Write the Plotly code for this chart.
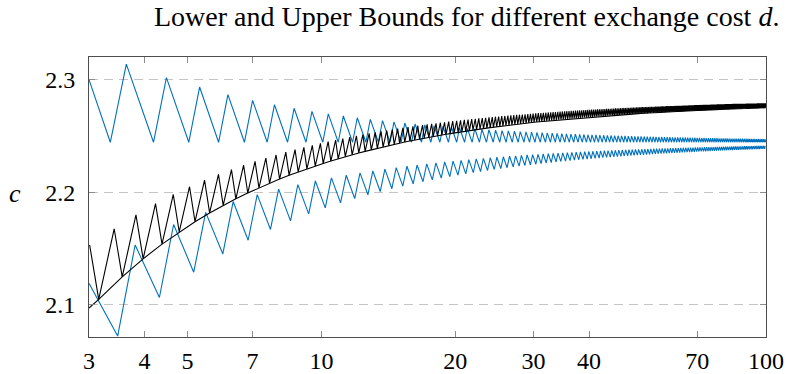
import numpy as np
import plotly.graph_objects as go

# ---------------- data ----------------
# x axis: exchange cost d (log scale), y axis: c
x_tick_vals = [3, 4, 5, 7, 10, 20, 30, 40, 70, 100]
y_tick_vals = [2.1, 2.2, 2.3]

# sampling of d for the saw-tooth vertices (first vertex, spacing)
black_peak_d0, black_dip_d0, black_step = 3.01, 3.155, 0.408
blue_up_dip_d0, blue_up_peak_d0 = 3.35, 3.64
blue_lo_dip_d0, blue_lo_peak_d0 = 3.48, 3.81
blue_step = 0.84

# black upper bound: peaks of the saw-tooth
black_peak_c = [
    2.1530, 2.1674, 2.1798, 2.1897, 2.1979, 2.2048, 2.2106, 2.2157, 2.2200, 2.2239, 2.2273,
    2.2303, 2.2330, 2.2355, 2.2377, 2.2397, 2.2416, 2.2433, 2.2449, 2.2463, 2.2476,
    2.2489, 2.2500, 2.2511, 2.2522, 2.2531, 2.2540, 2.2548, 2.2556, 2.2564, 2.2571,
    2.2578, 2.2584, 2.2590, 2.2596, 2.2602, 2.2607, 2.2612, 2.2617, 2.2621, 2.2626,
    2.2630, 2.2634, 2.2638, 2.2642, 2.2645, 2.2649, 2.2652, 2.2655, 2.2658, 2.2661,
    2.2664, 2.2667, 2.2670, 2.2672, 2.2675, 2.2677, 2.2680, 2.2682, 2.2684, 2.2686,
    2.2688, 2.2690, 2.2692, 2.2694, 2.2696, 2.2698, 2.2700, 2.2702, 2.2703, 2.2705,
    2.2706, 2.2708, 2.2710, 2.2711, 2.2712, 2.2714, 2.2715, 2.2717, 2.2718, 2.2719,
    2.2720, 2.2722, 2.2723, 2.2724, 2.2725, 2.2726, 2.2727, 2.2728, 2.2730, 2.2731,
    2.2732, 2.2733, 2.2734, 2.2734, 2.2735, 2.2736, 2.2737, 2.2738, 2.2739, 2.2740,
    2.2741, 2.2741, 2.2742, 2.2743, 2.2744, 2.2745, 2.2745, 2.2746, 2.2747, 2.2748,
    2.2748, 2.2749, 2.2750, 2.2750, 2.2751, 2.2752, 2.2752, 2.2753, 2.2753, 2.2754,
    2.2755, 2.2755, 2.2756, 2.2756, 2.2757, 2.2757, 2.2758,
    2.2758, 2.2759, 2.2759, 2.2760, 2.2760, 2.2761, 2.2761, 2.2762, 2.2762, 2.2763, 2.2763, 2.2764,
    2.2764, 2.2764, 2.2765, 2.2765, 2.2765, 2.2766, 2.2766, 2.2767, 2.2767, 2.2767, 2.2768, 2.2768, 2.2769,
    2.2769, 2.2770, 2.2770, 2.2770, 2.2771, 2.2771, 2.2772, 2.2772, 2.2772, 2.2773, 2.2773, 2.2774,
    2.2774, 2.2774, 2.2775, 2.2775, 2.2775, 2.2776, 2.2776, 2.2776, 2.2776, 2.2777, 2.2777, 2.2777,
    2.2778, 2.2778, 2.2778, 2.2779, 2.2779, 2.2779, 2.2780, 2.2780, 2.2780, 2.2780, 2.2781, 2.2781,
    2.2781, 2.2781, 2.2782, 2.2782, 2.2782, 2.2782, 2.2783, 2.2783, 2.2783, 2.2783, 2.2784, 2.2784, 2.2784,
    2.2784, 2.2784, 2.2785, 2.2785, 2.2785, 2.2785, 2.2785, 2.2786, 2.2786, 2.2786, 2.2786, 2.2786,
    2.2787, 2.2787, 2.2787, 2.2787, 2.2787, 2.2787, 2.2788, 2.2788, 2.2788, 2.2788, 2.2788, 2.2788,
    2.2788, 2.2789, 2.2789, 2.2789, 2.2789, 2.2789, 2.2789, 2.2790, 2.2790, 2.2790, 2.2790, 2.2790,
]

# black lower bound: the smooth curve; the saw-tooth dips sit on it
black_start_c = 2.097
black_dip_c = [
    2.1046, 2.1247, 2.1407, 2.1538, 2.1646, 2.1737, 2.1815, 2.1882, 2.1940, 2.1992, 2.2038,
    2.2079, 2.2116, 2.2149, 2.2179, 2.2207, 2.2232, 2.2255, 2.2276, 2.2296, 2.2315,
    2.2332, 2.2348, 2.2362, 2.2376, 2.2389, 2.2402, 2.2413, 2.2424, 2.2435, 2.2445,
    2.2454, 2.2463, 2.2471, 2.2479, 2.2487, 2.2494, 2.2501, 2.2508, 2.2514, 2.2520,
    2.2526, 2.2532, 2.2537, 2.2542, 2.2547, 2.2552, 2.2556, 2.2561, 2.2565, 2.2569,
    2.2573, 2.2577, 2.2581, 2.2585, 2.2588, 2.2592, 2.2595, 2.2598, 2.2601, 2.2604,
    2.2607, 2.2610, 2.2613, 2.2615, 2.2618, 2.2621, 2.2623, 2.2625, 2.2628, 2.2630,
    2.2632, 2.2634, 2.2637, 2.2639, 2.2641, 2.2643, 2.2645, 2.2646, 2.2648, 2.2650,
    2.2652, 2.2653, 2.2655, 2.2657, 2.2658, 2.2660, 2.2661, 2.2663, 2.2664, 2.2666,
    2.2667, 2.2669, 2.2670, 2.2671, 2.2673, 2.2674, 2.2675, 2.2676, 2.2678, 2.2679,
    2.2680, 2.2681,
    2.2682, 2.2683, 2.2684, 2.2685, 2.2686, 2.2687, 2.2688, 2.2689, 2.2690, 2.2691, 2.2692, 2.2693,
    2.2694, 2.2695, 2.2696, 2.2697, 2.2698, 2.2699, 2.2699, 2.2700, 2.2701, 2.2702, 2.2702, 2.2703, 2.2704,
    2.2705, 2.2705, 2.2706, 2.2707, 2.2707, 2.2708, 2.2709, 2.2709, 2.2710, 2.2711, 2.2711, 2.2712,
    2.2713, 2.2713, 2.2714, 2.2714, 2.2715, 2.2716, 2.2716, 2.2717, 2.2717, 2.2718, 2.2718, 2.2719,
    2.2720, 2.2720, 2.2721, 2.2721, 2.2722, 2.2722, 2.2723, 2.2723, 2.2724, 2.2724, 2.2725, 2.2725,
    2.2726, 2.2726, 2.2727, 2.2727, 2.2727, 2.2728, 2.2728, 2.2729, 2.2729, 2.2730, 2.2730, 2.2730, 2.2731,
    2.2731, 2.2732, 2.2732, 2.2733, 2.2733, 2.2733, 2.2734, 2.2734, 2.2735, 2.2735, 2.2735, 2.2736,
    2.2736, 2.2737, 2.2737, 2.2737, 2.2738, 2.2738, 2.2738, 2.2739, 2.2739, 2.2739, 2.2740, 2.2740,
    2.2740, 2.2741, 2.2741, 2.2741, 2.2741, 2.2742, 2.2742, 2.2742, 2.2742, 2.2743, 2.2743, 2.2743,
    2.2743, 2.2744, 2.2744, 2.2744, 2.2745, 2.2745, 2.2745, 2.2745, 2.2746, 2.2746, 2.2746, 2.2746, 2.2747,
    2.2747, 2.2747, 2.2747, 2.2748, 2.2748, 2.2748, 2.2748, 2.2749, 2.2749, 2.2749, 2.2750, 2.2750,
]

# blue upper series
blue_up_start_c = 2.300
blue_up_peak_c = [
    2.3138, 2.3018, 2.2934, 2.2867, 2.2816, 2.2777, 2.2745, 2.2718, 2.2696, 2.2677,
    2.2661, 2.2647, 2.2635, 2.2624, 2.2614, 2.2605, 2.2597, 2.2590, 2.2584, 2.2578,
    2.2572, 2.2567, 2.2563, 2.2558, 2.2554, 2.2551, 2.2547, 2.2544, 2.2541, 2.2538,
    2.2535, 2.2533, 2.2530, 2.2528, 2.2526, 2.2524, 2.2522, 2.2520, 2.2518, 2.2516,
    2.2515, 2.2513, 2.2512, 2.2510, 2.2509, 2.2508, 2.2506, 2.2505, 2.2504, 2.2503,
    2.2502, 2.2501, 2.2500, 2.2499, 2.2498, 2.2497, 2.2496, 2.2495, 2.2495, 2.2494,
    2.2493, 2.2492, 2.2492, 2.2491, 2.2490, 2.2490, 2.2489, 2.2488, 2.2488, 2.2487,
    2.2487, 2.2486, 2.2486, 2.2485, 2.2485, 2.2484, 2.2484, 2.2483, 2.2483, 2.2482,
    2.2482, 2.2481, 2.2481, 2.2480, 2.2480, 2.2480, 2.2479, 2.2479, 2.2479, 2.2478,
    2.2478, 2.2477, 2.2477, 2.2477, 2.2476, 2.2476, 2.2476, 2.2476, 2.2475, 2.2475,
    2.2475, 2.2474, 2.2474, 2.2474, 2.2474, 2.2473, 2.2473, 2.2473, 2.2473, 2.2472,
    2.2472, 2.2472, 2.2472, 2.2471, 2.2471,
]
blue_up_dip_c = [
    2.2443, 2.2443, 2.2443, 2.2443, 2.2443, 2.2443, 2.2443, 2.2443, 2.2443, 2.2443,
    2.2443, 2.2443, 2.2443, 2.2443, 2.2443, 2.2443, 2.2443, 2.2443, 2.2443, 2.2443,
    2.2443, 2.2443, 2.2443, 2.2443, 2.2443, 2.2443, 2.2443, 2.2443, 2.2443, 2.2443,
    2.2443, 2.2443, 2.2443, 2.2443, 2.2443, 2.2443, 2.2443, 2.2443, 2.2443, 2.2443,
    2.2443, 2.2443, 2.2443, 2.2443, 2.2443, 2.2443, 2.2443, 2.2443, 2.2443, 2.2443,
    2.2443, 2.2443, 2.2443, 2.2443, 2.2443, 2.2443, 2.2443, 2.2443, 2.2443, 2.2443,
    2.2443, 2.2443, 2.2443, 2.2443, 2.2443, 2.2443, 2.2443, 2.2443, 2.2443, 2.2443,
    2.2443, 2.2443, 2.2443, 2.2443, 2.2443, 2.2443, 2.2443, 2.2443, 2.2443, 2.2443,
    2.2443, 2.2443, 2.2443, 2.2443, 2.2443, 2.2443, 2.2443, 2.2443, 2.2443, 2.2443,
    2.2443, 2.2443, 2.2443, 2.2443, 2.2443, 2.2443, 2.2443, 2.2443, 2.2443, 2.2443,
    2.2443, 2.2443, 2.2443, 2.2443, 2.2443, 2.2443, 2.2443, 2.2443, 2.2443, 2.2443,
    2.2443, 2.2443, 2.2443, 2.2443, 2.2443, 2.2443,
]

# blue lower series
blue_lo_start_c = 2.119
blue_lo_dip_c = [
    2.0720, 2.1063, 2.1288, 2.1450, 2.1572, 2.1668, 2.1744, 2.1807, 2.1860, 2.1904,
    2.1943, 2.1976, 2.2005, 2.2030, 2.2053, 2.2074, 2.2092, 2.2109, 2.2124, 2.2138,
    2.2151, 2.2162, 2.2173, 2.2183, 2.2192, 2.2201, 2.2209, 2.2217, 2.2224, 2.2231,
    2.2237, 2.2243, 2.2248, 2.2254, 2.2259, 2.2263, 2.2268, 2.2272, 2.2276, 2.2280,
    2.2284, 2.2288, 2.2291, 2.2294, 2.2297, 2.2300, 2.2303, 2.2306, 2.2309, 2.2311,
    2.2314, 2.2316, 2.2318, 2.2321, 2.2323, 2.2325, 2.2327, 2.2329, 2.2331, 2.2332,
    2.2334, 2.2336, 2.2338, 2.2339, 2.2341, 2.2342, 2.2344, 2.2345, 2.2347, 2.2348,
    2.2349, 2.2350, 2.2352, 2.2353, 2.2354, 2.2355, 2.2356, 2.2357, 2.2358, 2.2360,
    2.2361, 2.2362, 2.2362, 2.2363, 2.2364, 2.2365, 2.2366, 2.2367, 2.2368, 2.2369,
    2.2370, 2.2370, 2.2371, 2.2372, 2.2373, 2.2373, 2.2374, 2.2375, 2.2375, 2.2376,
    2.2377, 2.2377, 2.2378, 2.2379, 2.2379, 2.2380, 2.2380, 2.2381, 2.2382, 2.2382,
    2.2383, 2.2383, 2.2384, 2.2384, 2.2385,
]
blue_lo_peak_c = [
    2.1530, 2.1712, 2.1820, 2.1916, 2.1978, 2.2027, 2.2067, 2.2099, 2.2127, 2.2150,
    2.2171, 2.2188, 2.2204, 2.2218, 2.2230, 2.2241, 2.2251, 2.2260, 2.2268, 2.2276,
    2.2282, 2.2289, 2.2295, 2.2300, 2.2305, 2.2310, 2.2314, 2.2319, 2.2322, 2.2326,
    2.2330, 2.2333, 2.2336, 2.2339, 2.2342, 2.2344, 2.2347, 2.2349, 2.2351, 2.2353,
    2.2355, 2.2357, 2.2359, 2.2361, 2.2363, 2.2364, 2.2366, 2.2368, 2.2369, 2.2370,
    2.2372, 2.2373, 2.2374, 2.2376, 2.2377, 2.2378, 2.2379, 2.2380, 2.2381, 2.2382,
    2.2383, 2.2384, 2.2385, 2.2386, 2.2387, 2.2388, 2.2388, 2.2389, 2.2390, 2.2391,
    2.2392, 2.2392, 2.2393, 2.2394, 2.2394, 2.2395, 2.2395, 2.2396, 2.2397, 2.2397,
    2.2398, 2.2398, 2.2399, 2.2399, 2.2400, 2.2400, 2.2401, 2.2401, 2.2402, 2.2402,
    2.2403, 2.2403, 2.2404, 2.2404, 2.2404, 2.2405, 2.2405, 2.2406, 2.2406, 2.2406,
    2.2407, 2.2407, 2.2408, 2.2408, 2.2408, 2.2409, 2.2409, 2.2409, 2.2410, 2.2410,
    2.2410, 2.2411, 2.2411, 2.2411, 2.2411,
]

# ---------------- build the vertex sequences ----------------
def grid(d0, step, n):
    return list(d0 + step * np.arange(n))

def interleave(xa, ya, xb, yb, start=None):
    xs, ys = [], []
    if start is not None:
        xs.append(start[0]); ys.append(start[1])
    for i in range(max(len(xa), len(xb))):
        if i < len(xa):
            xs.append(xa[i]); ys.append(ya[i])
        if i < len(xb):
            xs.append(xb[i]); ys.append(yb[i])
    return xs, ys

D_START = x_tick_vals[0]

bp_d = grid(black_peak_d0, black_step, len(black_peak_c))
bd_d = grid(black_dip_d0, black_step, len(black_dip_c))
black_x, black_y = interleave(bp_d, black_peak_c, bd_d, black_dip_c)
smooth_x = [D_START] + bd_d
smooth_y = [black_start_c] + black_dip_c

bud_d = grid(blue_up_dip_d0, blue_step, len(blue_up_dip_c))
bup_d = grid(blue_up_peak_d0, blue_step, len(blue_up_peak_c))
bu_x, bu_y = interleave(bud_d, blue_up_dip_c, bup_d, blue_up_peak_c, start=(D_START, blue_up_start_c))

bld_d = grid(blue_lo_dip_d0, blue_step, len(blue_lo_dip_c))
blp_d = grid(blue_lo_peak_d0, blue_step, len(blue_lo_peak_c))
bl_x, bl_y = interleave(bld_d, blue_lo_dip_c, blp_d, blue_lo_peak_c, start=(D_START, blue_lo_start_c))

BLUE = "#0072BD"
FONT = "Liberation Serif"

fig = go.Figure()
fig.add_trace(go.Scatter(x=bu_x, y=bu_y, mode="lines", line=dict(color=BLUE, width=1.1)))
fig.add_trace(go.Scatter(x=bl_x, y=bl_y, mode="lines", line=dict(color=BLUE, width=1.1)))
fig.add_trace(go.Scatter(x=smooth_x, y=smooth_y, mode="lines", line=dict(color="black", width=1.1)))
fig.add_trace(go.Scatter(x=black_x, y=black_y, mode="lines", line=dict(color="black", width=1.1)))

fig.update_layout(
    width=787, height=374,
    margin=dict(l=89, r=21, t=57, b=37),
    plot_bgcolor="white", paper_bgcolor="white",
    showlegend=False,
    font=dict(family=FONT, size=24, color="black"),
)
fig.update_xaxes(
    type="log", range=[np.log10(3), np.log10(100)],
    tickvals=x_tick_vals, ticktext=[str(v) for v in x_tick_vals],
    ticks="inside", ticklen=6, tickwidth=1, tickcolor="#8c8c8c",
    showline=True, linecolor="#4d4d4d", linewidth=1, mirror="ticks",
    showgrid=False, zeroline=False, automargin=False,
    ticklabelstandoff=2,
    tickfont=dict(family=FONT, size=24, color="black"),
)
fig.update_yaxes(
    range=[2.0712, 2.3201],
    tickvals=y_tick_vals, ticktext=["%.1f" % v for v in y_tick_vals],
    ticks="inside", ticklen=6, tickwidth=1, tickcolor="#8c8c8c",
    showline=True, linecolor="#4d4d4d", linewidth=1, mirror="ticks",
    showgrid=True, gridcolor="#c4c4c4", gridwidth=1, griddash="9px,6px",
    zeroline=False, automargin=False,
    ticklabelstandoff=8,
    tickfont=dict(family=FONT, size=24, color="black"),
)
fig.add_annotation(
    text="Lower and Upper Bounds for different exchange cost <i>d</i>.",
    xref="paper", yref="paper", x=0.5569, y=1.146,
    xanchor="center", yanchor="middle", showarrow=False,
    font=dict(family=FONT, size=28, color="black"),
)
fig.add_annotation(
    text="<i>c</i>", xref="paper", yref="paper", x=-0.1093, y=0.514,
    xanchor="center", yanchor="middle", showarrow=False,
    font=dict(family=FONT, size=26, color="black"),
)

fig.write_html("out.html")
